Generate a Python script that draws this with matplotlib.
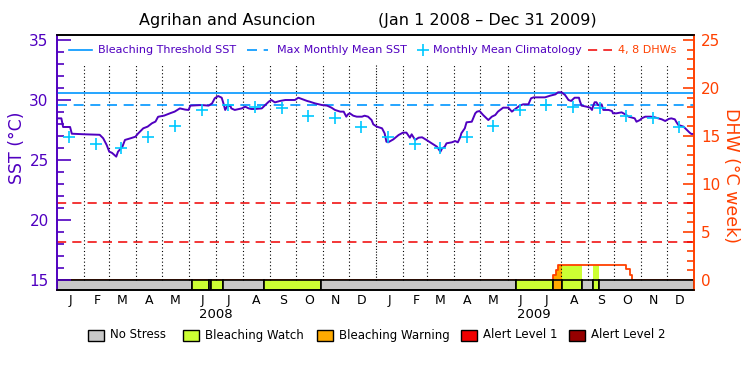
import numpy as np
import matplotlib.pyplot as plt
import matplotlib.dates as mdates
from matplotlib.patches import Rectangle
from matplotlib.ticker import FixedLocator

# days since Jan 1 2008 and daily SST (deg C)
sst_days = [0, 5, 7, 15, 17, 32, 49, 53, 57, 60, 63, 68, 70, 75, 78, 84, 90, 93, 99, 104,
            109, 113, 116, 123, 130, 135, 141, 147,
            151, 153, 166, 174, 178, 181, 185, 189, 191, 193, 195, 199, 200, 204, 212, 216,
            220, 223, 227, 235, 239, 243, 246, 250, 256, 262, 267, 273, 277, 281, 287, 290, 296,
            304, 310, 315, 319, 325, 329, 332, 334, 336, 340, 344, 350, 353, 357, 361, 363,
            367, 373, 376, 378, 380, 386, 392, 397, 401, 405, 407, 411, 415, 419, 424, 430,
            436, 440, 442, 445,
            447, 453, 457, 460, 463, 464, 468, 470, 476, 480, 482, 485, 489, 493, 495, 499,
            503, 506, 512, 518, 522, 526, 528, 531, 535, 541, 544, 547, 560, 566, 572, 575,
            579, 583, 587, 590, 594,
            599, 600, 602, 608, 612, 614, 615, 617, 619, 621, 623, 625, 627, 633, 637, 638,
            642, 648, 652, 656, 660, 663, 665, 669, 671, 675, 681, 686, 690, 694, 698, 702,
            705, 709, 711, 713, 719, 723, 726, 728, 731]
sst_vals = [28.47, 28.47, 27.75, 27.75, 27.19, 27.14, 27.10, 26.81, 26.25, 25.69, 25.60,
            25.28, 25.69, 26.10, 26.67, 26.80, 26.94, 27.20, 27.64, 27.78, 28.06, 28.20,
            28.60, 28.70, 28.90, 29.03, 29.30, 29.20,
            29.17, 29.53, 29.58, 29.53, 29.72, 30.14, 30.33, 30.19, 29.72, 29.17, 29.44,
            29.53, 29.30, 29.17, 29.30, 29.44, 29.30, 29.25, 29.25, 29.30, 29.58, 29.86,
            30.00, 29.80, 29.92, 30.00, 30.00, 30.00, 30.19, 30.08, 29.92, 29.86, 29.72,
            29.58, 29.53, 29.36, 29.17, 29.03, 29.03, 28.61, 28.81, 28.89, 28.69, 28.61,
            28.61, 28.69, 28.61, 28.33, 27.97, 27.78, 27.64, 27.22, 26.53, 26.47, 26.72,
            27.08, 27.28, 27.28, 26.86, 27.14, 26.67, 26.86, 26.89, 26.67, 26.39, 26.11,
            25.69, 25.97, 26.11,
            26.39, 26.47, 26.58, 26.47, 26.94, 27.22, 27.64, 28.14, 28.19, 28.89, 29.03,
            29.08, 28.75, 28.47, 28.33, 28.61, 28.75, 29.03, 29.36, 29.36, 29.03, 29.25,
            29.36, 29.53, 29.64, 29.64, 30.14, 30.22, 30.22, 30.36, 30.47, 30.64, 30.64,
            30.42, 30.00, 29.92, 30.19,
            30.19, 29.92, 29.53, 29.44, 29.36, 29.17, 29.44, 29.81, 29.81, 29.58, 29.53,
            29.64, 29.17, 29.17, 29.08, 28.89, 28.89, 28.97, 28.81, 28.61, 28.53, 28.47,
            28.19, 28.33, 28.47, 28.61, 28.61, 28.56, 28.47, 28.39, 28.25, 28.42, 28.47,
            28.39, 28.14, 27.92, 27.78, 27.50, 27.28, 27.17, 27.17]

clim_vals = [26.94, 26.31, 26.03, 26.92, 27.86, 29.17, 29.58, 29.44, 29.36, 28.69, 28.53, 27.78]
mmm = 29.57
threshold = 30.57
dhw_marks = [4, 8]

dhw_days = [0, 569, 573, 575, 653, 658, 660, 731]
dhw_vals = [0, 0.5, 1.0, 1.6, 1.1, 0.5, 0, 0]

stress_start = [0, 155, 174, 177, 191, 237, 303, 527, 569, 580, 602, 615, 622]
stress_level = [0, 1, 0, 1, 0, 1, 0, 1, 2, 1, 0, 1, 0]
n_days = 731

stress_names = ['No Stress', 'Bleaching Watch', 'Bleaching Warning', 'Alert Level 1', 'Alert Level 2']
stress_colors = ['#c8c8c8', '#ccff33', '#ffaa00', '#f00000', '#960000']
month_letters = list('JFMAMJJASOND')
years = ['2008', '2009']

purple = '#5000c0'
blue = '#0096ff'
cyan = '#00c8ff'
orange = '#ff4000'
red = '#f00000'

start = np.datetime64('2008-01-01')
t0 = mdates.date2num(start)


def to_num(days):
    return t0 + np.asarray(days, dtype=float)


months = np.arange('2008-01', '2010-01', dtype='datetime64[M]').astype('datetime64[D]')
month_days = (months - start).astype(int)

fig = plt.figure(figsize=(7.5, 3.75), dpi=100)
ax = fig.add_axes([0.076, 0.2267, 0.8493, 0.68])
ax2 = ax.twinx()
ax.set_zorder(ax2.get_zorder() + 1)
ax.patch.set_visible(False)

sst_lo, sst_hi = 14.167, 35.417
ax.set_ylim(sst_lo, sst_hi)
ax2.set_ylim((sst_lo - 15) * 1.25, (sst_hi - 15) * 1.25)
ax.set_xlim(to_num(0), to_num(n_days))

# month dividers
for d in month_days[1:]:
    dash = (0, (1, 1.5)) if d == 366 else (0, (1, 2.2))
    ax.plot(to_num([d, d]), [15, 32.9], color='black', lw=0.8, ls=dash)

# DHW, fill coloured by stress level, and stress bar
day_grid = np.arange(n_days + 1)
dhw_daily = np.array(dhw_vals)[np.searchsorted(dhw_days, day_grid, side='right') - 1]
stress_end = stress_start[1:] + [n_days]
for s, e, lev in zip(stress_start, stress_end, stress_level):
    if lev > 0:
        m = (day_grid >= s) & (day_grid <= e)
        ax2.fill_between(to_num(day_grid[m]), 0, dhw_daily[m], step='post',
                         color=stress_colors[lev], lw=0, zorder=1)
for lev_y in dhw_marks:
    ax2.axhline(lev_y, color=red, lw=1.1, ls=(0, (6, 4)), zorder=2)
ax2.step(to_num(dhw_days), dhw_vals, where='post', color=orange, lw=1.3, zorder=2)
ylo2 = ax2.get_ylim()[0]
for s, e, lev in zip(stress_start, stress_end, stress_level):
    ax2.bar(to_num(s), 0 - ylo2, bottom=ylo2, width=e - s, align='edge',
            color=stress_colors[lev], edgecolor='black', lw=1.2, zorder=3)

# SST
ax.axhline(threshold, color=blue, lw=1.2)
ax.axhline(mmm, color=blue, lw=1.2, ls=(0, (6, 4)))
ax.plot(to_num(sst_days), sst_vals, color=purple, lw=1.4)
ax.plot(to_num(month_days + 14), clim_vals * 2, ls='none', marker='+',
        color=cyan, ms=8, mew=1.2)

# legend inside the plot
ly = 0.941
tr = ax.transAxes
ax.plot([0.019, 0.055], [ly, ly], color=blue, lw=1.2, transform=tr)
ax.text(0.064, ly, 'Bleaching Threshold SST', color=purple, fontsize=8, va='center', transform=tr)
ax.plot([0.298, 0.332], [ly, ly], color=blue, lw=1.2, ls=(0, (6, 4)), transform=tr)
ax.text(0.345, ly, 'Max Monthly Mean SST', color=purple, fontsize=8, va='center', transform=tr)
ax.plot([0.574], [ly], marker='+', color=cyan, ms=8, mew=1.2, transform=tr)
ax.text(0.591, ly, 'Monthly Mean Climatology', color=purple, fontsize=8, va='center', transform=tr)
ax.plot([0.834, 0.871], [ly, ly], color=red, lw=1.1, ls=(0, (6, 4)), transform=tr)
ax.text(0.880, ly, '4, 8 DHWs', color=orange, fontsize=8, va='center', transform=tr)

# axes styling
ax.set_yticks([15, 20, 25, 30, 35])
ax.yaxis.set_minor_locator(FixedLocator([v for v in range(16, 35) if v % 5]))
ax.tick_params(axis='y', which='major', direction='in', length=10, width=1.2,
               color=purple, labelcolor=purple, labelsize=11, pad=6)
ax.tick_params(axis='y', which='minor', direction='in', length=5, width=1.2, color=purple)
ax2.set_yticks([0, 5, 10, 15, 20, 25])
ax2.yaxis.set_minor_locator(FixedLocator([v for v in range(1, 25) if v % 5]))
ax2.tick_params(axis='y', which='major', direction='in', length=8, width=1.2,
                color=orange, labelcolor=orange, labelsize=11, pad=5)
ax2.tick_params(axis='y', which='minor', direction='in', length=5, width=1.2, color=orange)

ax.set_xticks(to_num(month_days + 15))
ax.set_xticklabels(month_letters * 2)
ax.tick_params(axis='x', length=0, pad=3, labelsize=9)
for i, yr in enumerate(years):
    ax.text(to_num(month_days[12 * i + 6]), -0.098, yr, fontsize=9.5, ha='center', va='center',
            transform=ax.get_xaxis_transform())

for a in (ax, ax2):
    a.spines['left'].set_color(purple)
    a.spines['right'].set_color(orange)
    a.spines['top'].set_color('black')
    a.spines['bottom'].set_color('black')
    for sp in a.spines.values():
        sp.set_linewidth(1.2)

fig.text(17 / 750, 1 - 148 / 375, 'SST (°C)', rotation=90, ha='center', va='center',
         color=purple, fontsize=12.5)
fig.text(731 / 750, 1 - 175 / 375, 'DHW (°C week)', rotation=-90, ha='center', va='center',
         color=orange, fontsize=12.5)

fig.text(227 / 750, 1 - 20 / 375, 'Agrihan and Asuncion', ha='center', va='center', fontsize=11.5)
fig.text(487 / 750, 1 - 20 / 375, '(Jan 1 2008 \u2013 Dec 31 2009)', ha='center', va='center',
         fontsize=11.5)

# stress legend below
patch_x = [88, 183, 317, 461, 569]
for px, name, col in zip(patch_x, stress_names, stress_colors):
    fig.add_artist(Rectangle((px / 750, 1 - 341 / 375), 16 / 750, 11 / 375,
                             facecolor=col, edgecolor='black', lw=1, transform=fig.transFigure))
    fig.text((px + 22) / 750, 1 - 335 / 375, name, fontsize=8.5, va='center')

fig.savefig('out.png', dpi=100)
